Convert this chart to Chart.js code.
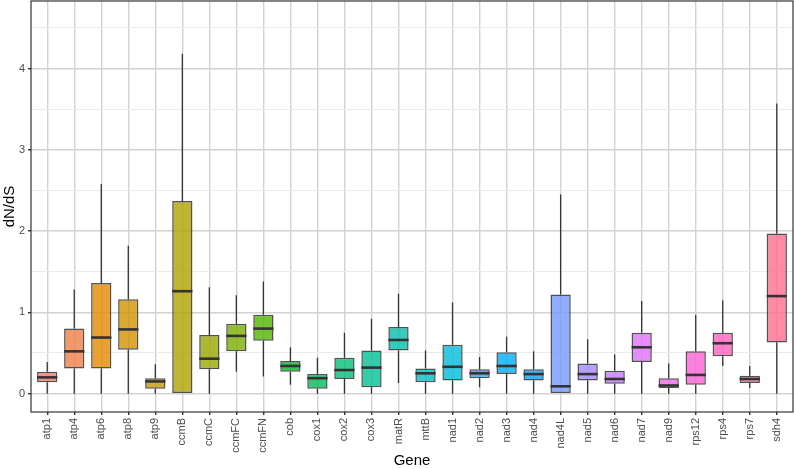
<!DOCTYPE html>
<html>
<head>
<meta charset="utf-8">
<script src="https://cdn.jsdelivr.net/npm/chart.js@4/dist/chart.umd.min.js"></script>
<style>
  html, body { margin: 0; padding: 0; background: #fff; }
  #wrap { width: 794px; height: 469px; position: relative; }
</style>
</head>
<body>
<div id="wrap"><canvas id="box"></canvas></div>
<script>
// dN/dS per gene
const genes = ['atp1','atp4','atp6','atp8','atp9','ccmB','ccmC','ccmFC','ccmFN','cob',
  'cox1','cox2','cox3','matR','mttB','nad1','nad2','nad3','nad4','nad4L',
  'nad5','nad6','nad7','nad9','rps12','rps4','rps7','sdh4'];
const whiskerLow  = [0, 0, 0, 0, 0, 0, 0, 0.27, 0.21, 0.11, 0, 0, 0, 0.13, 0, 0, 0.08, 0, 0, 0, 0, 0, 0, 0, 0, 0.34, 0.07, 0];
const q1          = [0.14, 0.31, 0.31, 0.54, 0.06, 0, 0.30, 0.52, 0.65, 0.27, 0.06, 0.18, 0.08, 0.53, 0.14, 0.16, 0.19, 0.24, 0.16, 0, 0.16, 0.12, 0.39, 0.07, 0.11, 0.46, 0.13, 0.63];
const median      = [0.20, 0.52, 0.69, 0.79, 0.15, 1.26, 0.43, 0.71, 0.80, 0.34, 0.19, 0.29, 0.32, 0.66, 0.25, 0.33, 0.25, 0.34, 0.24, 0.09, 0.24, 0.18, 0.57, 0.10, 0.23, 0.62, 0.18, 1.20];
const q3          = [0.27, 0.80, 1.36, 1.16, 0.19, 2.37, 0.72, 0.86, 0.97, 0.40, 0.24, 0.44, 0.53, 0.82, 0.31, 0.60, 0.30, 0.51, 0.30, 1.22, 0.37, 0.28, 0.75, 0.19, 0.52, 0.75, 0.22, 1.97];
const whiskerHigh = [0.39, 1.28, 2.58, 1.82, 0.36, 4.18, 1.31, 1.21, 1.38, 0.57, 0.44, 0.75, 0.92, 1.23, 0.53, 1.12, 0.45, 0.70, 0.52, 2.45, 0.67, 0.48, 1.14, 0.37, 0.97, 1.15, 0.34, 3.57];
const yTicks = [0, 1, 2, 3, 4];
const yMinor = [0.5, 1.5, 2.5, 3.5, 4.5];

// ggplot-style hue palette (hcl, c=100, l=65)
function hcl(h, c, l) {
  const hr = h * Math.PI / 180;
  const U = c * Math.cos(hr), V = c * Math.sin(hr);
  const Xn = 95.047, Yn = 100, Zn = 108.883;
  const un = 4 * Xn / (Xn + 15 * Yn + 3 * Zn), vn = 9 * Yn / (Xn + 15 * Yn + 3 * Zn);
  const Y = Yn * (l > 8 ? Math.pow((l + 16) / 116, 3) : l / 903.3);
  const u = U / (13 * l) + un, v = V / (13 * l) + vn;
  const X = 9 * Y * u / (4 * v), Z = Y * (12 - 3 * u - 20 * v) / (4 * v);
  const x = X / 100, y = Y / 100, z = Z / 100;
  let r = 3.240479 * x - 1.537150 * y - 0.498535 * z;
  let g = -0.969256 * x + 1.875992 * y + 0.041556 * z;
  let b = 0.055648 * x - 0.204043 * y + 1.057311 * z;
  const gam = t => {
    t = t > 0.0031308 ? 1.055 * Math.pow(t, 1 / 2.4) - 0.055 : 12.92 * t;
    return Math.round(Math.min(1, Math.max(0, t)) * 255);
  };
  return [gam(r), gam(g), gam(b)];
}
const fills = genes.map((g, i) => {
  const [r, gg, b] = hcl(15 + 360 * i / genes.length, 100, 65);
  return `rgba(${r},${gg},${b},0.8)`;
});

const INK = '#333333';

const boxExtras = {
  id: 'boxExtras',
  beforeDatasetsDraw(chart) {
    const { ctx, scales: { x, y } } = chart;
    ctx.save();
    ctx.strokeStyle = INK;
    ctx.lineWidth = 1.3;
    genes.forEach((g, i) => {
      const px = x.getPixelForValue(i);
      ctx.beginPath();
      ctx.moveTo(px, y.getPixelForValue(whiskerLow[i]));
      ctx.lineTo(px, y.getPixelForValue(q1[i]));
      ctx.moveTo(px, y.getPixelForValue(q3[i]));
      ctx.lineTo(px, y.getPixelForValue(whiskerHigh[i]));
      ctx.stroke();
    });
    ctx.restore();
  },
  afterDatasetsDraw(chart) {
    const { ctx, chartArea: a, scales: { y } } = chart;
    const meta = chart.getDatasetMeta(0);
    ctx.save();
    ctx.strokeStyle = INK;
    ctx.lineWidth = 2.6;
    meta.data.forEach((bar, i) => {
      const py = y.getPixelForValue(median[i]);
      ctx.beginPath();
      ctx.moveTo(bar.x - bar.width / 2, py);
      ctx.lineTo(bar.x + bar.width / 2, py);
      ctx.stroke();
    });
    // panel border
    ctx.lineWidth = 1.2;
    ctx.strokeStyle = '#333333';
    ctx.strokeRect(a.left, a.top, a.right - a.left, a.bottom - a.top);
    ctx.restore();
  }
};

new Chart(document.getElementById('box'), {
  type: 'bar',
  data: {
    datasets: [{
      label: 'dN/dS',
      data: genes.map((g, i) => ({ x: i, y: [q1[i], q3[i]] })),
      backgroundColor: fills,
      borderColor: 'rgba(51,51,51,0.85)',
      borderWidth: 1.5,
      borderSkipped: false,
      barPercentage: 0.75,
      categoryPercentage: 1
    }]
  },
  options: {
    responsive: true,
    maintainAspectRatio: false,
    animation: false,
    layout: { padding: { top: 1, right: 1, left: 0, bottom: 0 } },
    plugins: { legend: { display: false }, tooltip: { enabled: false } },
    scales: {
      x: {
        type: 'linear',
        offset: false,
        min: -0.6,
        max: genes.length - 0.4,
        afterBuildTicks: s => { s.ticks = genes.map((g, i) => ({ value: i })); },
        afterFit: s => { s.height = 57; s.paddingLeft = 0; s.paddingRight = 0; },
        grid: { offset: false, color: '#d2d2d2', lineWidth: 1.4, tickLength: 3, tickColor: '#333333', drawTicks: true },
        border: { display: false },
        ticks: {
          autoSkip: false, minRotation: 90, maxRotation: 90, padding: 3,
          color: '#4d4d4d', font: { family: 'Liberation Sans', size: 11 },
          callback: v => genes[v]
        },
        title: {
          display: true, text: 'Gene', color: '#000',
          font: { family: 'Liberation Sans', size: 15, lineHeight: 1 }, padding: { top: 0, bottom: 0.5 }
        }
      },
      y: {
        min: -0.226,
        max: 4.83,
        afterBuildTicks: s => {
          s.ticks = yTicks.concat(yMinor).sort((a, b) => a - b).map(v => ({ value: v }));
        },
        afterFit: s => { s.width = 31; s.paddingTop = 0; s.paddingBottom = 0; },
        grid: {
          color: c => (yTicks.includes(c.tick && c.tick.value) ? '#d2d2d2' : '#ebebeb'),
          lineWidth: c => (yTicks.includes(c.tick && c.tick.value) ? 1.4 : 1.1),
          tickLength: 3,
          tickColor: c => (yTicks.includes(c.tick && c.tick.value) ? '#333333' : 'rgba(0,0,0,0)')
        },
        border: { display: false },
        ticks: {
          padding: 3, color: '#4d4d4d', font: { family: 'Liberation Sans', size: 11 },
          callback: v => (yTicks.includes(v) ? String(v) : '')
        },
        title: {
          display: true, text: 'dN/dS', color: '#000',
          font: { family: 'Liberation Sans', size: 15, lineHeight: 1 }, padding: { top: 2, bottom: 0 }
        }
      }
    }
  },
  plugins: [boxExtras]
});
</script>
</body>
</html>
